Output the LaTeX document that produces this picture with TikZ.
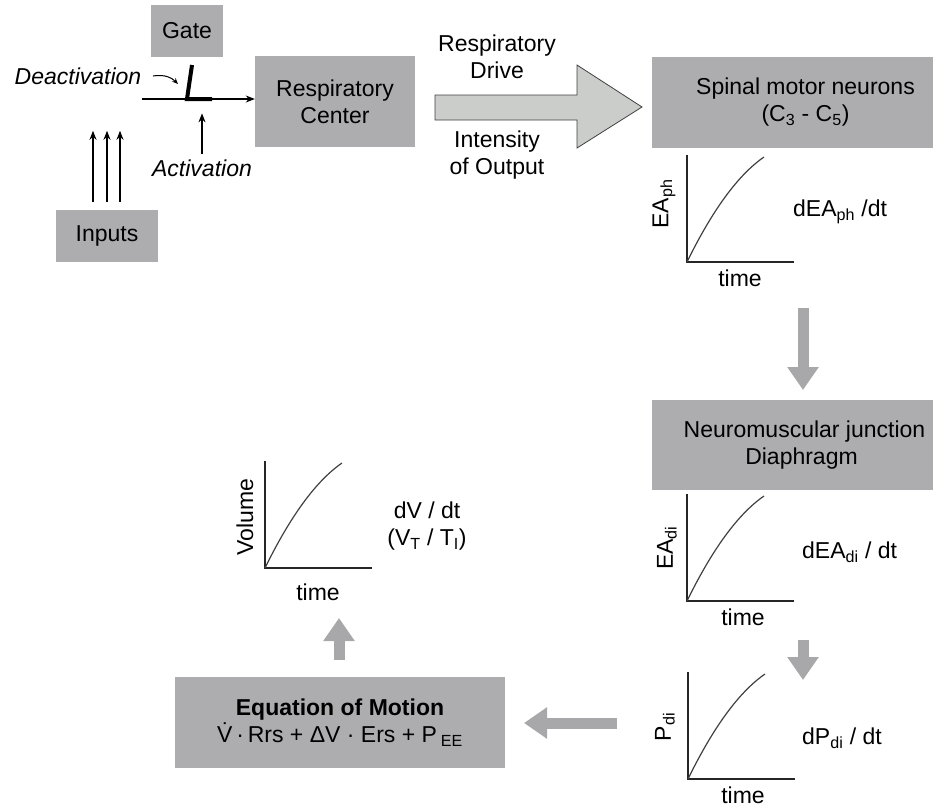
\documentclass[tikz,border=0pt]{standalone}
\usepackage{fontspec}
\setmainfont{Liberation Sans}
\usetikzlibrary{arrows.meta, calc}
\definecolor{boxgray}{RGB}{173,173,176}
\definecolor{arrowgray}{RGB}{168,168,171}
\definecolor{drivefill}{RGB}{202,205,202}
\begin{document}
\begin{tikzpicture}[x=1pt, y=-1pt]
    \tikzset{
      box/.style={
        rectangle, fill=boxgray, inner sep=0pt,
        align=center, font=\fontsize{23}{27}\selectfont
      },
      lbl/.style={inner sep=0pt, align=center, font=\fontsize{23}{27}\selectfont},
      thinarrow/.style={line width=1.2pt, -{Stealth[length=9pt,width=7pt]}},
      blockarrow/.style={line width=11pt, draw=arrowgray, -{Triangle[length=23pt,width=30pt]}},
      axis/.style={line width=1.5pt, black!85, line join=miter},
      growth/.style={line width=1.2pt, black!75},
      timegraph/.pic={
        \draw[axis] (0,-107) -- (0,0) -- (107,0);
        \draw[growth] (0,0) .. controls (22,-45) and (48,-85) .. (77,-105);
      }
    }
    \useasboundingbox (0,0) rectangle (940,807);

    % Gate and inputs
    \node[box, minimum width=72pt, minimum height=52pt] (gate) at (187,31) {Gate};
    \node[box, minimum width=102pt, minimum height=52pt] (inputs) at (107,236) {Inputs};
    \node[box, minimum width=160pt, minimum height=91pt] (rc) at (335,101.5) {Respiratory\\Center};
    \node[lbl, font=\fontsize{23}{27}\selectfont\itshape] (deact) at (78,76) {Deactivation};
    \node[lbl, font=\fontsize{23}{27}\selectfont\itshape] (act) at (202,168) {Activation};

    \coordinate (gateln) at (142,99);
    \draw[thinarrow] (gateln) -- (gateln -| rc.west);
    \draw[line width=4pt] (192,65) -- (187,99) -- (212,99);
    \draw[line width=1pt, -{Stealth[length=6pt,width=5pt]}] (153,76) .. controls (165,74) and (172,78) .. (178,84);
    \draw[thinarrow] ([yshift=5pt]act.north) -- ++(0,-41);
    \foreach \dx in {-14,0,13}
      \draw[thinarrow] ([xshift=\dx pt, yshift=8pt]inputs.north) -- ++(0,-71);

    % Respiratory drive
    \draw[draw=black!75, line width=0.8pt, fill=drivefill]
      (435,95) -- (577,95) -- (577,65) -- (642,107) -- (577,148) -- (577,120) -- (435,120) -- cycle;
    \node[lbl] (drive) at (497,57) {Respiratory\\Drive};
    \node[lbl] (intensity) at (497,155) {Intensity\\of Output};

    % Right column
    \node[box, minimum width=281pt, minimum height=91pt] (spinal) at (792.5,102.5)
      {\hspace*{26pt}Spinal motor neurons\\\hspace*{26pt}(C\textsubscript{3} - C\textsubscript{5})};
    \node[box, minimum width=281pt, minimum height=90pt] (nmj) at (792.5,445)
      {\hspace*{24pt}Neuromuscular junction\\\hspace*{18pt}Diaphragm};

    \pic at (687,262) {timegraph};
    \node[lbl, rotate=90] (eaph) at (664,204) {EA\textsubscript{ph}};
    \node[lbl] (time1) at (740,278) {time};
    \node[lbl, anchor=west] (deaph) at (793,212) {dEA\textsubscript{ph} /dt};

    \pic at (687,601) {timegraph};
    \node[lbl, rotate=90] (eadi) at (667,548) {EA\textsubscript{di}};
    \node[lbl] (time2) at (743,617) {time};
    \node[lbl, anchor=west] (deadi) at (802,552) {dEA\textsubscript{di} / dt};

    \pic at (688,779) {timegraph};
    \node[lbl, rotate=90] (pdi) at (665,727) {P\textsubscript{di}};
    \node[lbl] (time3) at (743,795) {time};
    \node[lbl, anchor=west] (dpdi) at (802,738) {dP\textsubscript{di} / dt};

    % Equation of motion and volume
    \node[box, minimum width=330pt, minimum height=91pt] (eom) at (340,722.5)
      {\textbf{Equation of Motion}\\\.{V}\,·\,Rrs + ΔV · Ers + P\,\textsubscript{EE}};

    \pic at (265,568) {timegraph};
    \node[lbl, rotate=90] (vol) at (245,517) {Volume};
    \node[lbl] (time4) at (318,592) {time};
    \node[lbl] (dvdt) at (427,526) {dV / dt\\(V\textsubscript{T} / T\textsubscript{I})};

    % Flow arrows
    \coordinate (d1a) at (803,308);
    \coordinate (d1b) at (803,390);
    \coordinate (d2a) at (803,640);
    \coordinate (d2b) at (803,680);
    \coordinate (la) at (617,723);
    \coordinate (ua) at (339,660);
    \draw[blockarrow] (d1a) -- (d1b);
    \draw[blockarrow] (d2a) -- (d2b);
    \draw[blockarrow] (la) -- (la -| 524,0);
    \draw[blockarrow] (ua) -- (339,618);
  \end{tikzpicture}
\end{document}
